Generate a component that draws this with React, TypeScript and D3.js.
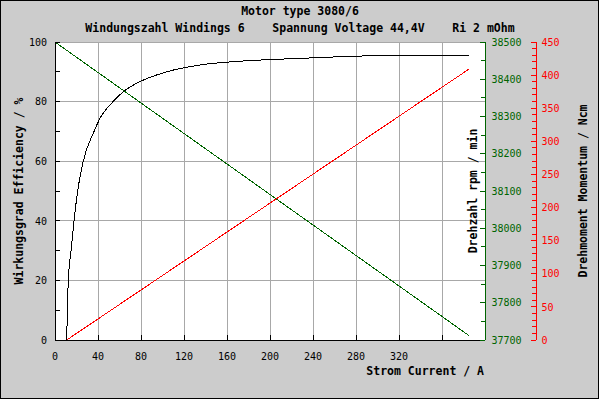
import * as d3 from 'd3';

const WIDTH = 600;
const HEIGHT = 400;
const MARGIN = { top: 42, right: 115, bottom: 60, left: 55 };

// efficiency curve (Wirkungsgrad)
const EFF_CURRENT = [10.9, 11.5, 12.4, 14.9, 17.7, 21.1, 26.3, 36.3, 41.9, 54, 63.5, 79, 104, 135, 166, 228, 286, 347, 385];
const EFF_VALUES = [0, 10, 20, 30, 40, 50, 60, 70, 74.4, 80, 83.3, 86.7, 90, 92.3, 93.4, 94.5, 95.3, 95.6, 95.6];

// speed (Drehzahl) and torque (Drehmoment)
const RPM_CURRENT = [0, 385];
const RPM_VALUES = [38500, 37712];
const TORQUE_CURRENT = [10.9, 385];
const TORQUE_VALUES = [0, 409];

const X_TICKS = [0, 40, 80, 120, 160, 200, 240, 280, 320, 360];
const X_LABELS = ['0', '40', '80', '120', '160', '200', '240', '280', '320'];
const EFF_TICKS = [0, 20, 40, 60, 80, 100];
const RPM_TICKS = [37700, 37800, 37900, 38000, 38100, 38200, 38300, 38400, 38500];
const TORQUE_TICKS = [0, 50, 100, 150, 200, 250, 300, 350, 400, 450];

const GREEN = '#006400';
const RED = '#ff0000';
const GRID = '#a8a8a8';
const MONO = '"DejaVu Sans Mono", "Liberation Mono", monospace';

export default function App() {
  const x0 = MARGIN.left;
  const x1 = WIDTH - MARGIN.right;
  const y0 = HEIGHT - MARGIN.bottom;
  const y1 = MARGIN.top;

  const x = d3.scaleLinear().domain([0, 400]).range([x0, x1]);
  const yEff = d3.scaleLinear().domain([0, 100]).range([y0, y1]);
  const yRpm = d3.scaleLinear().domain([37700, 38500]).range([y0, y1]);
  const yTorque = d3.scaleLinear().domain([0, 450]).range([y0, y1]);
  const redAxisX = 536;

  const effLine = d3
    .line<number>()
    .x((_, i) => x(EFF_CURRENT[i]))
    .y((d) => yEff(d))
    .curve(d3.curveMonotoneX);
  const rpmLine = d3
    .line<number>()
    .x((_, i) => x(RPM_CURRENT[i]))
    .y((d) => yRpm(d));
  const torqueLine = d3
    .line<number>()
    .x((_, i) => x(TORQUE_CURRENT[i]))
    .y((d) => yTorque(d));

  const effMinor = d3.range(0, 101, 10);
  const rpmMinor = d3.range(37700, 38501, 50);
  const torqueMinor = d3.range(0, 451, 10);

  return (
    <svg
      width={WIDTH}
      height={HEIGHT}
      style={{ position: 'absolute', left: 0, top: 0 }}
      fontFamily={MONO}
    >
      <rect x={0.5} y={0.5} width={598} height={398} fill="#cccccc" stroke="#000" shapeRendering="crispEdges" />
      <rect x={x0} y={y1} width={x1 - x0} height={y0 - y1} fill="#fff" />

      <text x={300} y={15} textAnchor="middle" fontSize={11.5} fontWeight="bold">
        Motor type 3080/6
      </text>
      <text x={300} y={32} textAnchor="middle" fontSize={11.5} fontWeight="bold" style={{ whiteSpace: 'pre' }}>
        {'Windungszahl Windings 6    Spannung Voltage 44,4V    Ri 2 mOhm'}
      </text>

      {/* grid */}
      <g stroke={GRID} shapeRendering="crispEdges">
        {X_TICKS.filter((t) => t > 0).map((t) => (
          <line key={'gx' + t} x1={x(t)} x2={x(t)} y1={y1} y2={y0} />
        ))}
        {EFF_TICKS.filter((t) => t > 0).map((t) => (
          <line key={'gy' + t} x1={x0} x2={x1} y1={yEff(t)} y2={yEff(t)} />
        ))}
      </g>

      {/* series */}
      <g fill="none" shapeRendering="crispEdges">
        <path d={rpmLine(RPM_VALUES) ?? ''} stroke={GREEN} />
        <path d={torqueLine(TORQUE_VALUES) ?? ''} stroke={RED} />
        <path d={effLine(EFF_VALUES) ?? ''} stroke="#000" />
      </g>

      {/* left axis */}
      <g shapeRendering="crispEdges" stroke="#000">
        <line x1={x0} x2={x0} y1={y1} y2={y0} />
        <line x1={x0} x2={x1} y1={y0} y2={y0} />
        {effMinor.map((t) => (
          <line key={'le' + t} x1={x0} x2={x0 + 5} y1={yEff(t)} y2={yEff(t)} />
        ))}
        {X_TICKS.filter((t) => t > 0).map((t) => (
          <line key={'bx' + t} x1={x(t)} x2={x(t)} y1={y0} y2={y0 - 5} />
        ))}
      </g>
      <g fontSize={10} fill="#000">
        {EFF_TICKS.map((t) => (
          <text key={'el' + t} x={47} y={yEff(t) + 3.7} textAnchor="end">
            {t}
          </text>
        ))}
        {X_LABELS.map((l) => (
          <text key={'xl' + l} x={x(+l)} y={359.5} textAnchor="middle">
            {l}
          </text>
        ))}
      </g>

      {/* green rpm axis */}
      <g shapeRendering="crispEdges" stroke={GREEN}>
        <line x1={x1} x2={x1} y1={y1} y2={y0} />
        {rpmMinor.map((t) => (
          <line key={'rt' + t} x1={x1} x2={x1 - (t % 100 === 0 ? 5 : 4)} y1={yRpm(t)} y2={yRpm(t)} />
        ))}
      </g>
      <g fontSize={10} fill={GREEN}>
        {RPM_TICKS.map((t) => (
          <text key={'rl' + t} x={491.5} y={yRpm(t) + 3.7}>
            {t}
          </text>
        ))}
      </g>

      {/* red torque axis */}
      <g shapeRendering="crispEdges" stroke={RED}>
        <line x1={redAxisX} x2={redAxisX} y1={y1} y2={y0} />
        {torqueMinor.map((t) => (
          <line
            key={'tt' + t}
            x1={redAxisX}
            x2={redAxisX - (t % 50 === 0 ? 5 : 4)}
            y1={yTorque(t)}
            y2={yTorque(t)}
          />
        ))}
      </g>
      <g fontSize={10} fill={RED}>
        {TORQUE_TICKS.map((t) => (
          <text key={'tl' + t} x={541.5} y={yTorque(t) + 3.7}>
            {t}
          </text>
        ))}
      </g>

      {/* axis titles */}
      <g fontSize={11.5} fontWeight="bold" fill="#000">
        <text x={484} y={375} textAnchor="end">
          Strom Current / A
        </text>
        <text transform="translate(23.3,191) rotate(-90)" textAnchor="middle">
          Wirkungsgrad Efficiency / %
        </text>
        <text transform="translate(476.7,191) rotate(-90)" textAnchor="middle">
          Drehzahl rpm / min
        </text>
        <text transform="translate(586.7,191) rotate(-90)" textAnchor="middle">
          Drehmoment Momentum / Ncm
        </text>
      </g>
    </svg>
  );
}
